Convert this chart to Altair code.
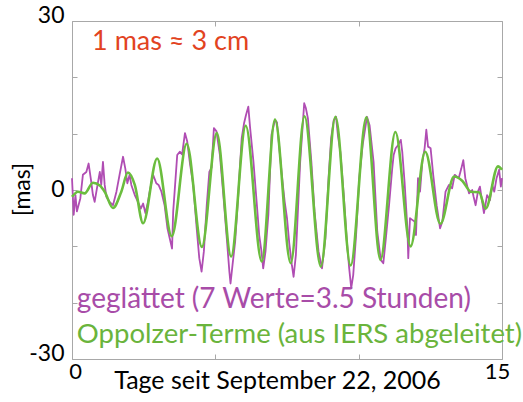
import altair as alt
import pandas as pd

# Smoothed polar-motion residual (7 samples = 3.5 hours), in mas
smoothed_day = [
    0.00, 0.06, 0.12, 0.17, 0.29, 0.38, 0.50, 0.58, 0.67, 0.73, 0.79, 0.91,
    0.97, 1.02, 1.08, 1.14, 1.20, 1.31, 1.43, 1.55, 1.66, 1.78, 1.86, 1.93,
    2.01, 2.07, 2.19, 2.30, 2.40, 2.48, 2.56, 2.65, 2.71, 2.83, 2.94, 3.02,
    3.12, 3.23, 3.33, 3.41, 3.49, 3.53, 3.58, 3.67, 3.76, 3.84, 3.94, 4.02,
    4.12, 4.23, 4.35, 4.44, 4.52, 4.60, 4.70, 4.79, 4.87, 4.95, 5.04, 5.16,
    5.28, 5.40, 5.49, 5.53, 5.60, 5.69, 5.80, 5.92, 6.00, 6.07, 6.15, 6.21,
    6.33, 6.45, 6.53, 6.61, 6.67, 6.75, 6.85, 6.96, 7.08, 7.15, 7.25, 7.33,
    7.42, 7.50, 7.58, 7.67, 7.73, 7.81, 7.96, 8.04, 8.10, 8.16, 8.23, 8.35,
    8.46, 8.60, 8.72, 8.84, 8.95, 9.04, 9.13, 9.21, 9.28, 9.36, 9.48, 9.59,
    9.67, 9.74, 9.81, 9.91, 10.02, 10.14, 10.29, 10.38, 10.52, 10.65, 10.77,
    10.86, 10.95, 11.06, 11.17, 11.22, 11.29, 11.38, 11.47, 11.52, 11.60,
    11.70, 11.73, 11.79, 11.87, 11.95, 12.00, 12.07, 12.14, 12.22, 12.30,
    12.36, 12.42, 12.51, 12.60, 12.72, 12.84, 12.92, 13.03, 13.15, 13.26,
    13.35, 13.49, 13.58, 13.65, 13.72, 13.85, 13.96, 14.01, 14.08, 14.16,
    14.23, 14.29, 14.37, 14.48, 14.58, 14.66, 14.73, 14.81, 14.90, 14.96,
    15.00,
]
smoothed_mas = [
    2.1, -4.4, -0.9, -3.8, -1.5, 2.7, 3.2, 4.7, 1.5, -0.9, -2.1, 1.5,
    3.2, 0.9, 5.0, 0.9, -1.2, -2.1, -2.7, -0.3, 2.7, 5.9, 3.8, 1.2,
    2.7, 0.9, -0.9, -2.1, -3.3, -2.4, -4.1, -2.1, -0.3, 2.7, 1.2, 0.9,
    -0.3, -2.7, -6.8, -8.6, -10.4, -3.8, -0.3, 6.2, 6.8, 6.3, 10.1, 8.6,
    4.5, 0.9, -6.8, -12.1, -14.5, -10.9, -2.7, 3.2, 4.0, 11.0, 10.4, 6.2,
    -0.9, -8.6, -14.5, -16.6, -13.3, -9.2, -0.9, 9.2, 11.8, 13.3, 14.8, 11.2,
    5.0, -2.7, -8.0, -10.9, -13.9, -10.9, -4.4, 9.8, 12.4, 12.0, 6.5, 2.1,
    -2.1, -5.0, -9.5, -13.3, -15.4, -11.5, 5.0, 10.9, 15.4, 14.5, 12.7, 5.0,
    -3.8, -10.9, -13.9, -8.6, 2.1, 9.2, 12.4, 13.0, 9.5, 6.8, -0.9, -9.2,
    -13.9, -17.4, -15.1, -8.0, 2.1, 8.0, 13.0, 11.5, 5.0, -7.4, -12.4,
    -13.0, -8.5, -2.7, 3.8, 6.2, 7.4, 8.0, 8.9, 6.8, 1.5,
    -6.8, -12.1, -5.0, -5.3, -5.6, -8.0, 2.1, -0.3, 5.0, 7.4,
    10.7, 7.7, 7.4, 2.7, -2.7, -6.8, -5.6, -0.3, 0.9, 0.3,
    2.7, 2.1, 3.8, 5.3, 2.1, -0.6, 0.0, -1.2, -2.7, -0.3,
    0.6, -1.5, -4.1, -0.9, -1.8, 0.9, -0.3, 2.1, 3.6, 0.6,
    2.1,
]

# Oppolzer terms derived from IERS, in mas
oppolzer_day = [
    0.00, 0.21, 0.44, 0.73, 0.97, 1.14, 1.43, 1.72, 1.95, 2.19, 2.48, 2.97,
    3.48, 4.00, 4.53, 5.05, 5.55, 6.06, 6.62, 7.08, 7.63, 8.11, 8.68, 9.19,
    9.72, 10.27, 10.76, 11.28, 11.81, 12.32, 12.85, 13.33, 13.62, 13.91,
    14.20, 14.43, 14.86, 15.00,
]
oppolzer_mas = [
    -1.2, -0.3, -0.6, 1.3, 0.8, -0.3, -3.2, -0.3, 3.1, 0.9, -5.9, 5.6,
    -8.2, 8.2, -10.1, 10.1, -11.8, 11.4, -12.7, 12.5, -13.0, 13.1, -13.6, 13.0,
    -13.4, 12.9, -12.4, 10.3, -10.0, 6.8, -6.0, 2.4, 1.6, -0.3,
    -0.4, -3.3, 4.2, 3.6,
]

x_ticks = [0, 5, 10, 15]
y_ticks = [-30, -20, -10, 0, 10, 20, 30]

# Annotation texts
note_texts = [
    "1 mas \u2248 3 cm",
    "gegl\u00e4ttet (7 Werte=3.5 Stunden)",
    "Oppolzer-Terme (aus IERS abgeleitet)",
]

PURPLE = "#b04db3"
PURPLE_TEXT = "#a84ca8"
GREEN = "#6bbd3e"
GREEN_TEXT = "#6ab43c"
RED = "#e2431f"
FRAME = "#a8a8a8"
FONT = "Lato"

smoothed = pd.DataFrame({"day": smoothed_day, "mas": smoothed_mas})
oppolzer = pd.DataFrame({"day": oppolzer_day, "mas": oppolzer_mas})
notes = pd.DataFrame({
    "day": [0.70, 0.17, 0.17],
    "mas": [24.85, -20.9, -27.1],
    "label": note_texts,
    "color": [RED, PURPLE_TEXT, GREEN_TEXT],
    "size": [27, 28, 27.5],
})

x_scale = alt.Scale(domain=[0, 15], nice=False, zero=False)
y_scale = alt.Scale(domain=[-30, 30], nice=False, zero=False)

bottom_axis = alt.Axis(
    orient="bottom", values=x_ticks, offset=-5, tickSize=5, tickColor=FRAME,
    domain=False, grid=False, labelFlush=False,
    labelExpr="datum.value == 0 || datum.value == 15 ? '' + datum.value : ''",
    labelOffset=alt.condition("datum.value == 0", alt.value(3), alt.value(-5)),
    labelFont=FONT, labelFontSize=22, labelColor="black", labelPadding=2,
    title="Tage seit September 22, 2006", titleFont=FONT, titleFontSize=25,
    titleFontWeight="normal", titleColor="black", titleX=205, titleY=34,
    titleAlign="center", titleBaseline="alphabetic",
)
left_axis = alt.Axis(
    orient="left", values=y_ticks, offset=-5, tickSize=5, tickColor=FRAME,
    domain=False, grid=False, labelFlush=False,
    labelExpr="datum.value % 30 == 0 ? '' + datum.value : ''",
    labelFont=FONT, labelFontSize=23, labelColor="black", labelPadding=8,
    labelBaseline="middle",
    labelOffset=alt.condition(
        "datum.value == 0", alt.value(-1),
        alt.value(-6),
    ),
    title="[mas]", titleFont=FONT, titleFontSize=23, titleFontWeight="normal",
    titleColor="black", titleX=-55, titleY=168, titleAngle=270,
    titleAlign="center", titleBaseline="middle",
)
top_axis = alt.Axis(
    orient="top", values=x_ticks, offset=-5, tickSize=5, tickColor=FRAME,
    domain=False, grid=False, labels=False, title=None,
)
right_axis = alt.Axis(
    orient="right", values=y_ticks, offset=-5, tickSize=5, tickColor=FRAME,
    domain=False, grid=False, labels=False, title=None,
)

smoothed_line = alt.Chart(smoothed).mark_line(
    color=PURPLE, strokeWidth=1.8, strokeJoin="round"
).encode(
    x=alt.X("day:Q", scale=x_scale, axis=bottom_axis),
    y=alt.Y("mas:Q", scale=y_scale, axis=left_axis),
)

oppolzer_line = alt.Chart(oppolzer).mark_line(
    color=GREEN, strokeWidth=2.6, interpolate="monotone"
).encode(
    x=alt.X("day:Q", scale=x_scale, axis=top_axis),
    y=alt.Y("mas:Q", scale=y_scale, axis=right_axis),
)

labels = alt.Chart(notes).mark_text(
    align="left", baseline="alphabetic", font=FONT
).encode(
    x=alt.X("day:Q", scale=x_scale, axis=None),
    y=alt.Y("mas:Q", scale=y_scale, axis=None),
    text="label:N",
    color=alt.Color("color:N", scale=None),
    size=alt.Size("size:Q", scale=None),
)

chart = alt.layer(smoothed_line, oppolzer_line, labels).resolve_axis(
    x="independent", y="independent"
).properties(
    width=430, height=338,
    padding={"left": 72, "top": 21, "right": 21, "bottom": 43},
    autosize=alt.AutoSizeParams(type="none"),
    background="white",
).configure_view(stroke=FRAME, strokeWidth=1)

chart.save("out.html", embed_options={"renderer": "svg", "actions": False})
